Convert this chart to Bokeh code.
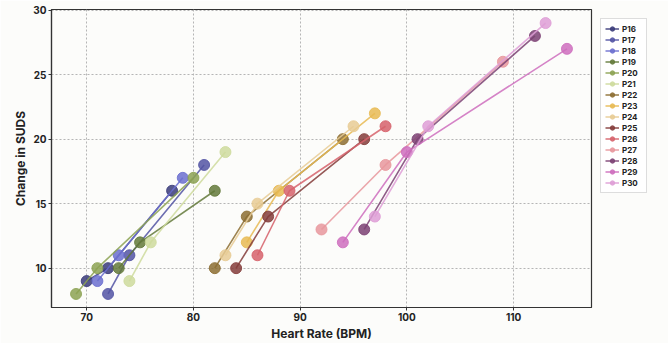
from bokeh.plotting import figure
from bokeh.models import Range1d, Legend, LegendItem, FixedTicker
from bokeh.embed import file_html
from bokeh.resources import INLINE

participants = ["P16", "P17", "P18", "P19", "P20", "P21", "P22", "P23",
                "P24", "P25", "P26", "P27", "P28", "P29", "P30"]
heart_rate = [
    [70, 72, 78],
    [72, 74, 81],
    [71, 73, 79],
    [73, 75, 82],
    [69, 71, 80],
    [74, 76, 83],
    [82, 85, 94],
    [85, 88, 97],
    [83, 86, 95],
    [84, 87, 96],
    [86, 89, 98],
    [92, 98, 109],
    [96, 101, 112],
    [94, 100, 115],
    [97, 102, 113],
]
suds = [
    [9, 10, 16],
    [8, 11, 18],
    [9, 11, 17],
    [10, 12, 16],
    [8, 10, 17],
    [9, 12, 19],
    [10, 14, 20],
    [12, 16, 22],
    [11, 15, 21],
    [10, 14, 20],
    [11, 16, 21],
    [13, 18, 26],
    [13, 20, 28],
    [12, 19, 27],
    [14, 21, 29],
]
colors = ["#393b79", "#5254a3", "#6b6ecf", "#637939", "#8ca252", "#cedb9c",
          "#8c6d31", "#e7ba52", "#e7cb94", "#843c39", "#d6616b", "#e7969c",
          "#7b4173", "#ce6dbd", "#de9ed6"]
x_ticks = [70, 80, 90, 100, 110]
y_ticks = [10, 15, 20, 25, 30]

FONT = "Inter"
BG = "#fcfcfa"

p = figure(frame_width=540, frame_height=298, output_backend="svg",
           toolbar_location=None,
           x_range=Range1d(66.7, 117.3), y_range=Range1d(6.95, 30.05),
           min_border_left=51, min_border_top=9, min_border_bottom=0,
           min_border_right=0, background_fill_color=BG, border_fill_color=BG)

items = []
for name, xs, ys, c in zip(participants, heart_rate, suds, colors):
    ln = p.line(xs, ys, line_color=c, line_width=1.6, line_alpha=0.85)
    sc = p.scatter(xs, ys, size=11, fill_color=c, line_color=c,
                   fill_alpha=0.85, line_alpha=0.85)
    items.append(LegendItem(label=name, renderers=[ln, sc]))

legend = Legend(items=items, location="top_left")
legend.label_text_font = FONT
legend.label_text_font_style = "bold"
legend.label_text_font_size = "8px"
legend.label_text_color = "#222222"
legend.glyph_height = 11
legend.glyph_width = 14
legend.label_height = 11
legend.spacing = 0
legend.padding = 4
legend.margin = 9
legend.label_standoff = 3
legend.border_line_color = "#bbbbbb"
legend.background_fill_color = "white"
p.add_layout(legend, "right")

p.outline_line_color = "#333333"
p.outline_line_width = 1.2

for ax in (p.xaxis[0], p.yaxis[0]):
    ax.axis_line_color = "#333333"
    ax.axis_line_width = 1.2
    ax.major_tick_line_color = "#333333"
    ax.major_tick_out = 3
    ax.major_tick_in = 0
    ax.minor_tick_line_color = None
    ax.major_label_text_font = FONT
    ax.major_label_text_font_style = "bold"
    ax.major_label_text_font_size = "10px"
    ax.major_label_text_color = "#222222"
    ax.axis_label_text_font = FONT
    ax.axis_label_text_font_style = "bold"
    ax.axis_label_text_font_size = "12px"
    ax.axis_label_text_color = "#222222"
    ax.major_label_standoff = 2
    ax.axis_label_standoff = 2

p.xaxis[0].ticker = FixedTicker(ticks=x_ticks)
p.yaxis[0].ticker = FixedTicker(ticks=y_ticks)
p.xaxis.axis_label = "Heart Rate (BPM)"
p.yaxis.axis_label = "Change in SUDS"

p.grid.grid_line_color = "#b5b5b5"
p.grid.grid_line_dash = "2 2"
p.grid.grid_line_width = 1

open("out.html", "w").write(file_html(p, INLINE))
